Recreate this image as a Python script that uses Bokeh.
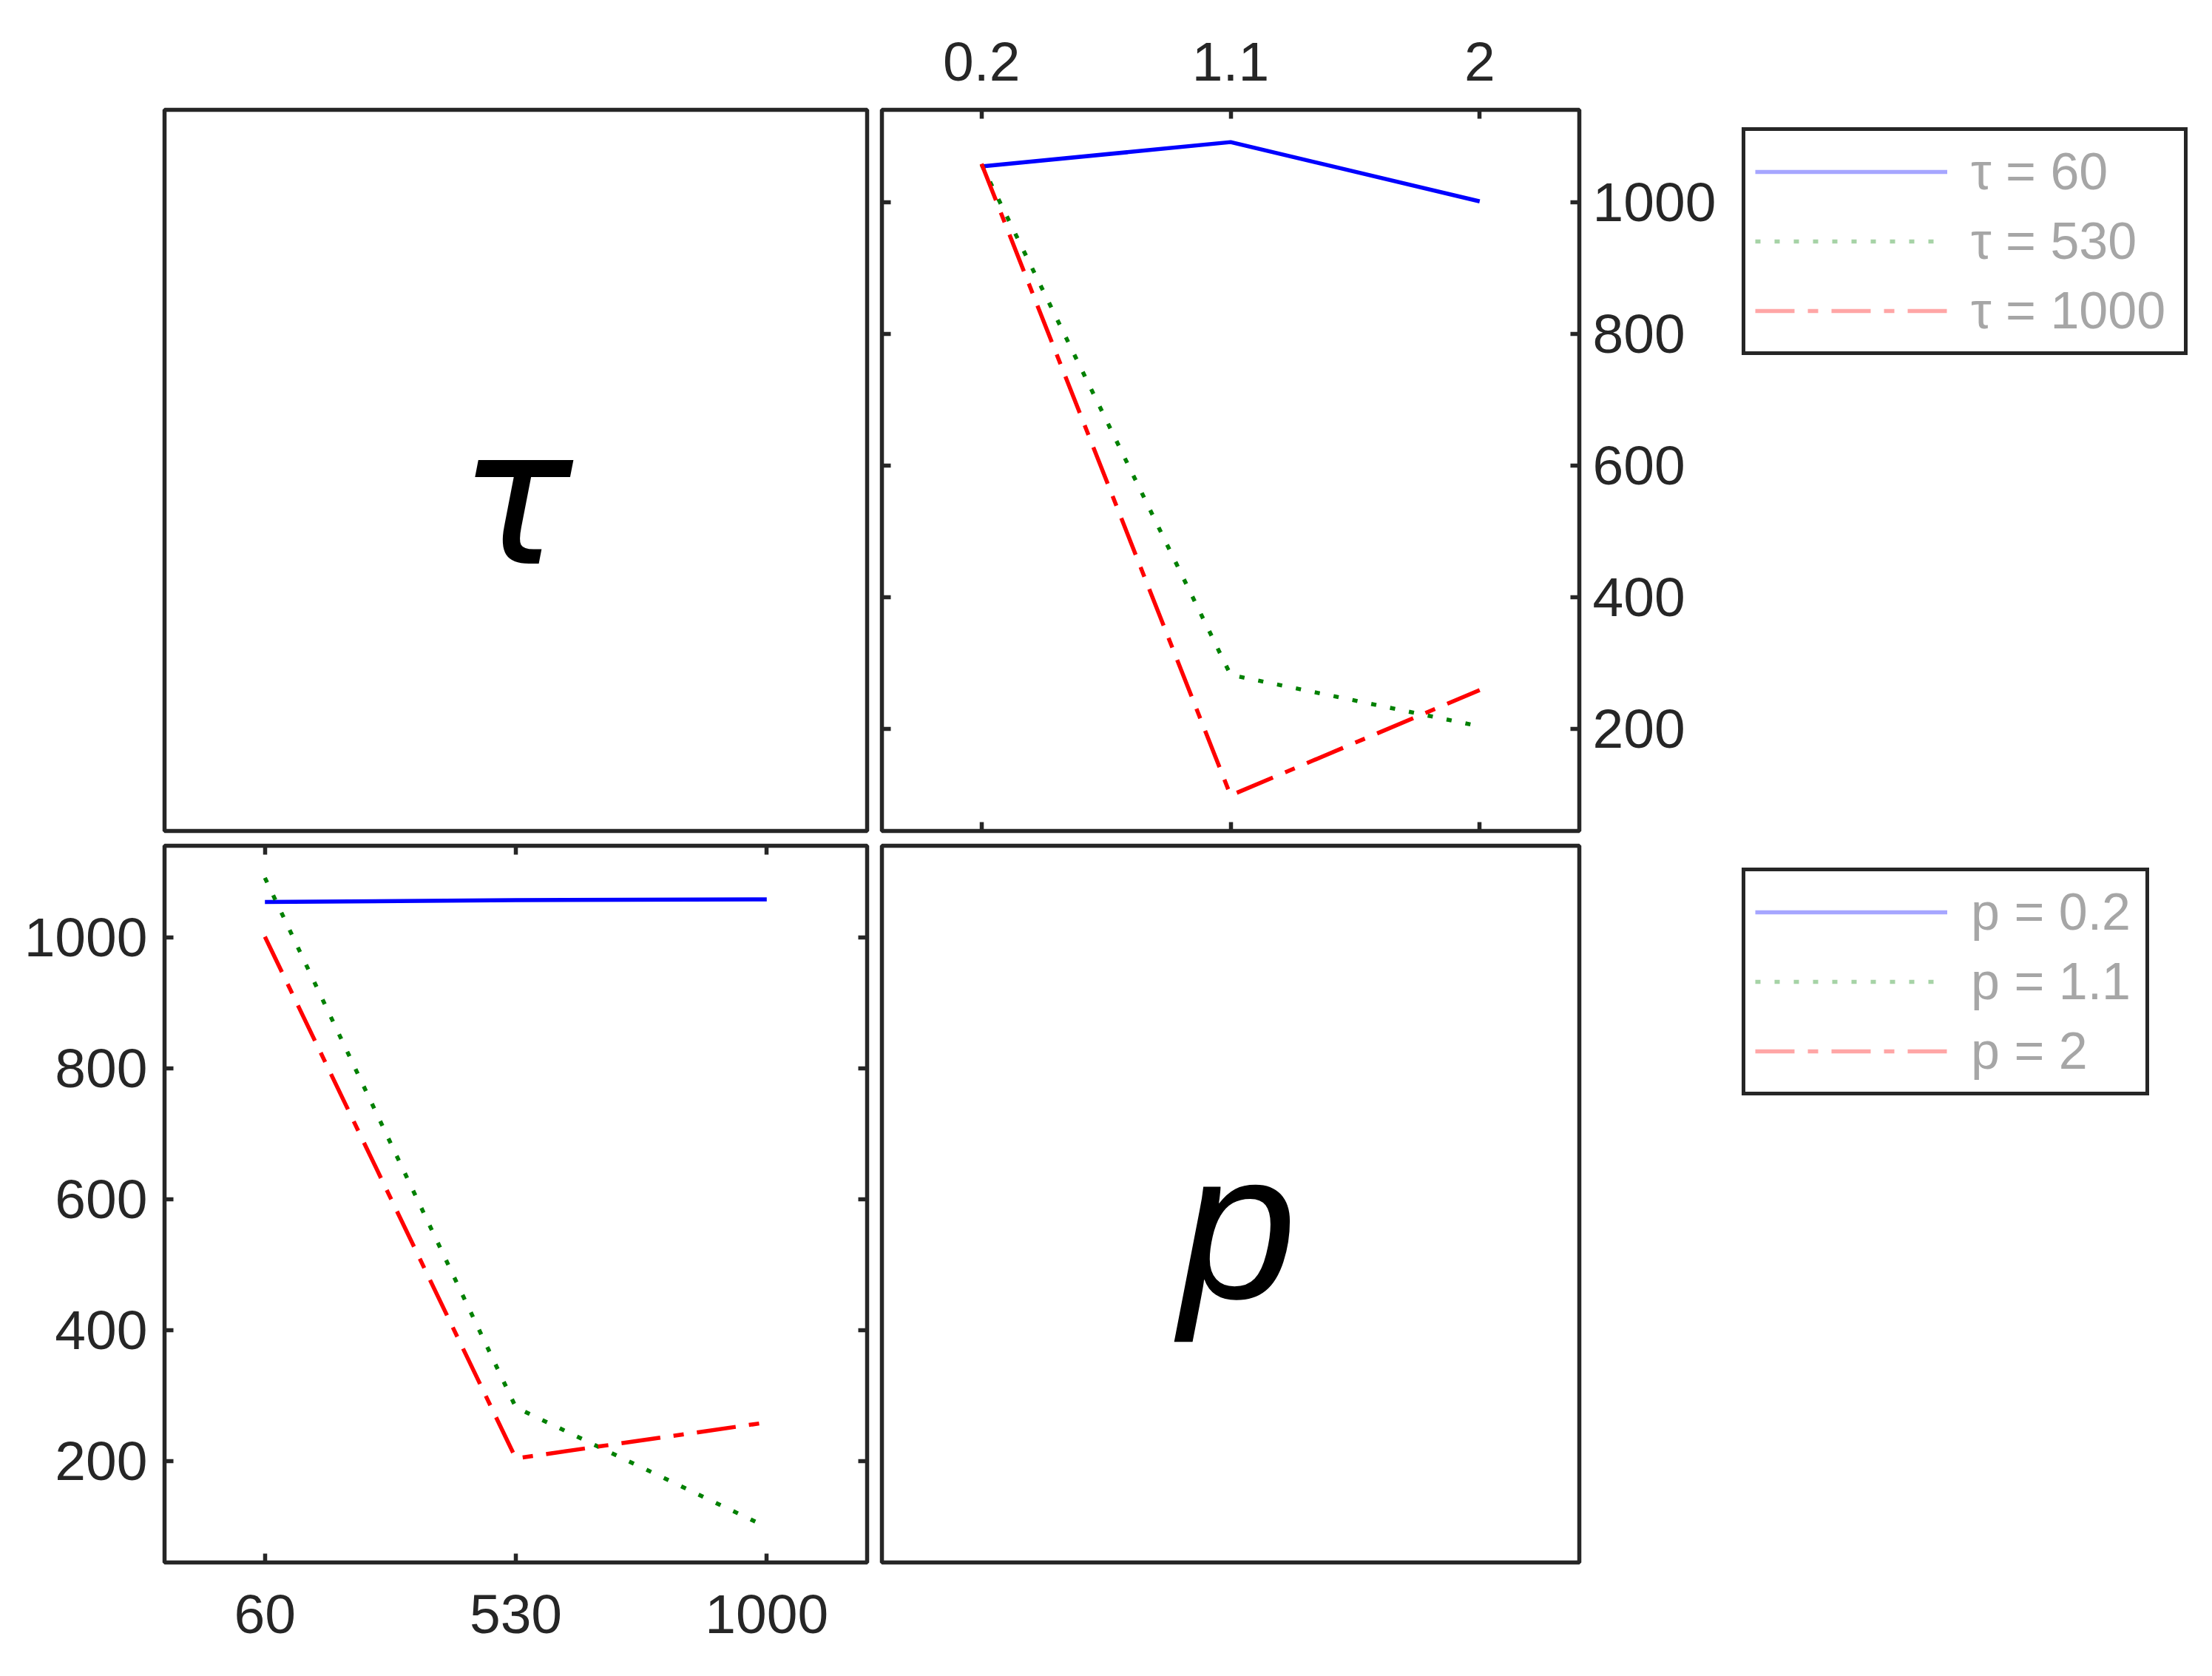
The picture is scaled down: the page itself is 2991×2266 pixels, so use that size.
import numpy as np
from bokeh.plotting import figure
from bokeh.models import (Range1d, LinearAxis, FixedTicker, NumeralTickFormatter,
                          CustomJSTickFormatter, Legend, LegendItem, Label)
from bokeh.layouts import row, column
from bokeh.embed import file_html
from bokeh.resources import INLINE

# ---------------- data ----------------
tau_vals = [60, 530, 1000]
p_vals = [0.2, 1.1, 2.0]
# cost for each tau, over p = 0.2, 1.1, 2
cost_tau60 = [1054, 1091, 1001]
cost_tau530 = [1057, 282, 204]
cost_tau1000 = [1058, 99, 259]
y_tick_vals = [200, 400, 600, 800, 1000]
tau_legend_labels = ["τ = 60", "τ = 530", "τ = 1000"]
p_legend_labels = ["p = 0.2", "p = 1.1", "p = 2"]
diag_labels = ["τ", "p"]

cost_rows = [cost_tau60, cost_tau530, cost_tau1000]
# cost for each p, over tau
cost_p_cols = [[r[j] for r in cost_rows] for j in range(len(p_vals))]

AX = "#262626"
styles = [
    dict(line_color="#0000ff", line_dash="solid"),
    dict(line_color="#008000", line_dash="7 19"),
    dict(line_color="#ff0000", line_dash="53 18 14 18"),
]
LW = 5.5
BW = 5.5

p_range = (-0.16, 2.36)
tau_range = (-128, 1188)
y_range = (45, 1140)


def make_panel(width, height, xr, yr, mbl, mbr, mbt, mbb, outline=True):
    f = figure(width=width, height=height, x_range=Range1d(*xr), y_range=Range1d(*yr),
               output_backend="svg", toolbar_location=None,
               x_axis_location=None, y_axis_location=None,
               min_border_left=mbl, min_border_right=mbr,
               min_border_top=mbt, min_border_bottom=mbb)
    f.grid.visible = False
    f.background_fill_color = "white"
    f.border_fill_color = "white"
    if outline:
        f.outline_line_color = AX
        f.outline_line_width = BW
        f.outline_line_alpha = 1
    else:
        f.outline_line_color = None
    return f


def add_axis(fig, side, ticks, show_labels, standoff=0, fmt=None):
    ax = LinearAxis(ticker=FixedTicker(ticks=ticks, minor_ticks=[]))
    ax.axis_line_color = None
    ax.major_tick_in = 12
    ax.major_tick_out = 0
    ax.major_tick_line_color = AX
    ax.major_tick_line_width = BW
    ax.minor_tick_line_color = None
    ax.major_label_text_font = "Liberation Sans"
    ax.major_label_text_color = AX
    if show_labels:
        if fmt is not None:
            ax.formatter = fmt
        ax.major_label_text_font_size = "75px"
        ax.major_label_standoff = standoff
    else:
        # tick marks only on the opposite side
        ax.formatter = CustomJSTickFormatter(code="return ''")
        ax.major_label_text_font_size = "1px"
        ax.major_label_standoff = 0
    fig.add_layout(ax, side)
    return ax


# ---------------- top-left: tau label ----------------
tl = make_panel(1182, 1133, (0, 1), (0, 1), 222, 10, 148, 10)
tl.add_layout(Label(x=(tl.x_range.start + tl.x_range.end) / 2,
                    y=(tl.y_range.start + tl.y_range.end) / 2,
                    text=diag_labels[0], text_font="DejaVu Sans", text_font_style="italic",
                    text_font_size="255px", text_color="black",
                    text_align="center", text_baseline="alphabetic",
                    x_offset=0, y_offset=-37))

# ---------------- top-right: cost vs p for each tau ----------------
tr = make_panel(1158, 1133, p_range, y_range, 10, 205, 148, 10)
for vals, st in zip(cost_rows, styles):
    tr.line(x=p_vals, y=vals, line_width=LW, **st)
add_axis(tr, "above", p_vals, True, standoff=40, fmt=NumeralTickFormatter(format="0.[0]"))
add_axis(tr, "below", p_vals, False)
add_axis(tr, "right", y_tick_vals, True, standoff=18)
add_axis(tr, "left", y_tick_vals, False)

# ---------------- bottom-left: cost vs tau for each p ----------------
bl = make_panel(1182, 1125, tau_range, y_range, 222, 10, 10, 146)
for vals, st in zip(cost_p_cols, styles):
    bl.line(x=tau_vals, y=vals, line_width=LW, **st)
add_axis(bl, "below", tau_vals, True, standoff=44)
add_axis(bl, "above", tau_vals, False)
add_axis(bl, "left", y_tick_vals, True, standoff=23)
add_axis(bl, "right", y_tick_vals, False)

# ---------------- bottom-right: p label ----------------
br = make_panel(1158, 1125, (0, 1), (0, 1), 10, 205, 10, 146)
br.add_layout(Label(x=(br.x_range.start + br.x_range.end) / 2,
                    y=(br.y_range.start + br.y_range.end) / 2,
                    text=diag_labels[1], text_font="Liberation Sans", text_font_style="italic",
                    text_font_size="285px", text_color="black",
                    text_align="center", text_baseline="alphabetic",
                    x_offset=10, y_offset=-28))


# ---------------- legends ----------------
def make_legend_fig(height, labels, loc, label_w):
    f = make_panel(643, height, (0, 1), (0, 1), 0, 0, 0, 0, outline=False)
    items = []
    for lab, st in zip(labels, styles):
        # legend-only proxy glyph (draws nothing in the frame)
        r = f.line(x=np.array([np.nan, np.nan]), y=np.array([np.nan, np.nan]),
                   line_width=LW, line_alpha=0.35, **st)
        items.append(LegendItem(label=lab, renderers=[r]))
    lg = Legend(items=items, location=loc)
    lg.border_line_color = AX
    lg.border_line_width = BW
    lg.border_line_alpha = 1
    lg.background_fill_color = "white"
    lg.background_fill_alpha = 1
    lg.label_text_font = "Liberation Sans"
    lg.label_text_font_size = "70px"
    lg.label_text_color = "#a6a6a6"
    lg.glyph_width = 260
    lg.glyph_height = 84
    lg.label_height = 84
    lg.label_width = label_w
    lg.label_standoff = 32
    lg.spacing = 10
    lg.padding = 13
    lg.margin = 0
    f.add_layout(lg, "center")
    return f


leg1 = make_legend_fig(1133, tau_legend_labels, (15, 643), 275)
leg2 = make_legend_fig(1125, p_legend_labels, (15, 631), 223)

layout = column(row(tl, tr, leg1), row(bl, br, leg2))

with open("out.html", "w") as fh:
    fh.write(file_html(layout, INLINE))
